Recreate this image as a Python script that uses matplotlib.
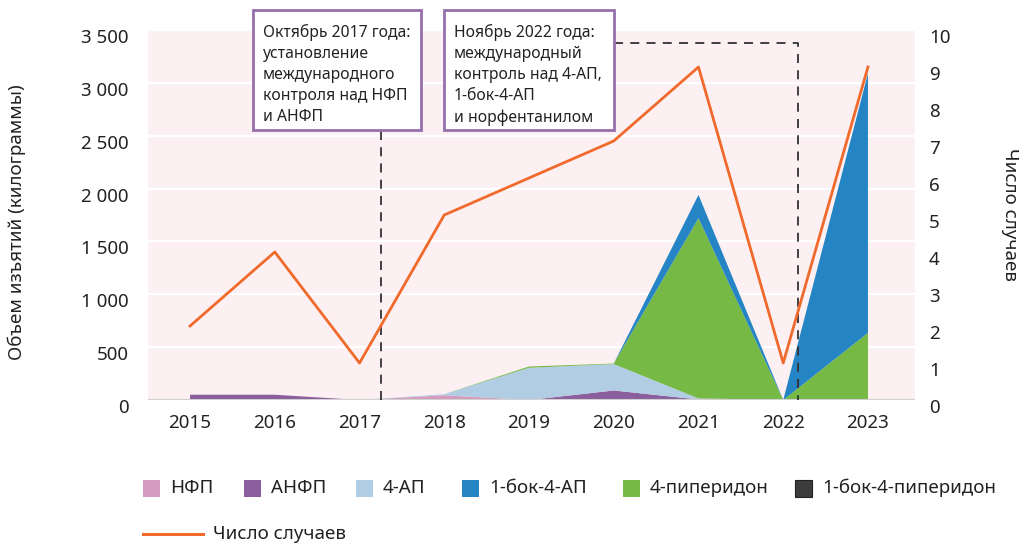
import matplotlib
matplotlib.use("Agg")
import matplotlib.pyplot as plt
import matplotlib.transforms as mtransforms
from matplotlib.patches import Rectangle
from matplotlib.lines import Line2D
import numpy as np

plt.rcParams['font.family'] = ['Noto Sans', 'DejaVu Sans']

years = [2015, 2016, 2017, 2018, 2019, 2020, 2021, 2022, 2023]
nfp = [0, 0, 0, 45, 0, 0, 0, 0, 0]
anfp = [50, 50, 0, 0, 0, 90, 5, 0, 0]
ap4 = [0, 0, 0, 10, 305, 250, 10, 0, 0]
piperidone4 = [0, 0, 0, 0, 12, 5, 1705, 0, 635]
boc_ap4 = [0, 0, 0, 0, 0, 0, 220, 0, 2455]
boc_piperidone4 = [0, 0, 0, 0, 0, 0, 0, 0, 0]
cases = [2, 4, 1, 5, 6, 7, 9, 1, 9]

labels = ['НФП', 'АНФП', '4-АП', '1-бок-4-АП', '4-пиперидон', '1-бок-4-пиперидон']
colors = {'НФП': '#d59cbf', 'АНФП': '#8b5f9e', '4-АП': '#b1cde4',
          '1-бок-4-АП': '#2585c4', '4-пиперидон': '#76b944',
          '1-бок-4-пиперидон': '#3c3c3c'}
case_label = 'Число случаев'
case_color = '#f06a2c'
left_ticks = [0, 500, 1000, 1500, 2000, 2500, 3000, 3500]
right_ticks = list(range(0, 11))
box1_text = 'Октябрь 2017 года:\nустановление\nмеждународного\nконтроля над НФП\nи АНФП'
box2_text = 'Ноябрь 2022 года:\nмеждународный\nконтроль над 4-АП,\n1-бок-4-АП\nи норфентанилом'

W, H = 1019, 547
fig = plt.figure(figsize=(W / 100, H / 100), dpi=100)
ax = fig.add_axes([148 / W, 1 - 400 / H, (915 - 148) / W, 370 / H])
ax.set_facecolor('#fcf0f3')
ax.set_xlim(2014.504, 2023.555)
ax.set_ylim(0, 3500)

# stacking order as drawn (bottom to top)
stack_order = [('НФП', nfp), ('АНФП', anfp), ('4-АП', ap4),
               ('4-пиперидон', piperidone4), ('1-бок-4-АП', boc_ap4),
               ('1-бок-4-пиперидон', boc_piperidone4)]
ax.stackplot(years, *[v for _, v in stack_order],
             colors=[colors[n] for n, _ in stack_order], linewidth=0, zorder=2)

for t in left_ticks[1:]:
    ax.axhline(t, color='white', lw=1.6, zorder=1)
ax.axhline(0, color='#d0d0d0', lw=1.5, zorder=3)

ax.set_yticks(left_ticks)
ax.set_yticklabels([f'{t:,}'.replace(',', ' ') for t in left_ticks])
ax.set_xticks(years)
ax.set_xticklabels([str(y) for y in years])
ax.tick_params(axis='both', length=0, labelsize=13.5, colors='#222222')
ax.tick_params(axis='y', pad=14)
ax.tick_params(axis='x', pad=10)
for s in ax.spines.values():
    s.set_visible(False)

ax2 = ax.twinx()
ax2.set_ylim(0, 10)
ax2.set_yticks(right_ticks)
ax2.tick_params(axis='y', length=0, labelsize=13.5, colors='#222222', pad=10)
for s in ax2.spines.values():
    s.set_visible(False)
ax2.plot(years, cases, color=case_color, lw=2.0, zorder=5)

shift = mtransforms.ScaledTranslation(0, -6 / 100, fig.dpi_scale_trans)
for lab in ax.get_yticklabels() + ax2.get_yticklabels():
    lab.set_transform(lab.get_transform() + shift)

fig.text(17 / W, 1 - 222 / H, 'Объем изъятий (килограммы)', rotation=90,
         ha='center', va='center', fontsize=13.5, color='#222222')
fig.text(1010 / W, 1 - 215 / H, case_label, rotation=-90,
         ha='center', va='center', fontsize=13.5, color='#222222')

# dashed annotation lines
tr = mtransforms.blended_transform_factory(ax.transData, ax.transAxes)
ax.add_line(Line2D([2017.25, 2017.25], [0, 0.73], transform=tr, color='#333333',
                   lw=1.3, ls=(0, (5, 4)), zorder=6))
ax.add_line(Line2D([2020.0, 2022.17, 2022.17], [0.965, 0.965, 0], transform=tr,
                   color='#333333', lw=1.3, ls=(0, (5, 4)), zorder=6))

# annotation boxes (figure pixel positions)
def box(x0, y0, x1, y1, txt):
    fig.add_artist(Rectangle((x0 / W, 1 - y1 / H), (x1 - x0) / W, (y1 - y0) / H,
                             transform=fig.transFigure, facecolor='white',
                             edgecolor='#9670ad', lw=2, zorder=10))
    fig.text((x0 + 10) / W, 1 - (y0 + 14) / H, txt, ha='left', va='top',
             fontsize=11.3, color='#222222', linespacing=1.42, zorder=11)

box(253, 10, 421, 130, box1_text)
box(444, 10, 614, 130, box2_text)

# legend row 1
sq_x = [143, 244, 356, 462, 623, 795]
for name, x in zip(labels, sq_x):
    fig.add_artist(Rectangle((x / W, 1 - 497 / H), 17 / W, 17 / H,
                             transform=fig.transFigure, facecolor=colors[name],
                             edgecolor='#222222' if name == '1-бок-4-пиперидон' else 'none',
                             lw=0.8))
    fig.text((x + 27) / W, 1 - 488 / H, name, ha='left', va='center',
             fontsize=13.5, color='#222222')
# legend row 2
fig.add_artist(Line2D([143 / W, 203 / W], [1 - 534 / H, 1 - 534 / H],
                      transform=fig.transFigure, color=case_color, lw=2.2))
fig.text(213 / W, 1 - 534 / H, case_label, ha='left', va='center',
         fontsize=13.5, color='#222222')

fig.savefig('out.png', dpi=100)
